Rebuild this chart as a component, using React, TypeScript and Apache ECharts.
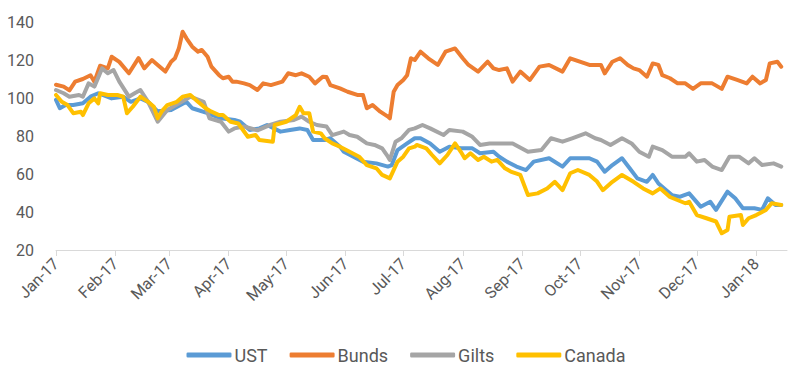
import React, { useEffect, useRef } from "react";
import * as echarts from "echarts";

// x = days since 1 Jan 2017
const monthStarts = [0, 31, 59, 90, 120, 151, 181, 212, 243, 273, 304, 334, 365];
const monthLabels = ["Jan-17", "Feb-17", "Mar-17", "Apr-17", "May-17", "Jun-17", "Jul-17", "Aug-17", "Sep-17", "Oct-17", "Nov-17", "Dec-17", "Jan-18"];
const yTicks = [20, 40, 60, 80, 100, 120, 140];
const seriesNames = ["UST", "Bunds", "Gilts", "Canada"];

const ust: [number, number][] = [
  [0, 99], [2, 94.6], [5, 96.3], [9, 96.3], [14, 97.2], [18, 100.7], [22, 102.5], [29, 99.8], [35, 100.7], [39, 98],
  [44, 99.8], [48, 98], [53, 93], [60, 93.7], [68, 98], [71, 94.6], [79, 92], [86, 89.3], [93, 88.4], [96, 87.5],
  [101, 83.2], [106, 84], [110, 85.8], [117, 82.3], [122, 83.2], [127, 84], [131, 83.2], [134, 77.9], [140, 77.9],
  [143, 78.8], [148, 74.4], [150, 71.7], [155, 69.1], [160, 66.5], [167, 65.6], [173, 63.9], [175, 64.7], [178, 72.6],
  [183, 76.1], [187, 78.8], [190, 78.8], [195, 76.1], [200, 71.7], [205, 74.4], [211, 73.5], [217, 73.5], [221, 70.9],
  [228, 71.7], [231, 69.1], [235, 66.5], [240, 63.9], [245, 62.1], [249, 66.5], [257, 68.3], [264, 63.9], [268, 68.3],
  [275, 68.3], [278, 68.3], [282, 66.5], [286, 61.2], [290, 64.7], [295, 68.3], [299, 63], [303, 57.7], [308, 55.9],
  [311, 59.5], [314, 55], [317, 52.4], [321, 48.9], [325, 48], [330, 49.8], [336, 42.8], [341, 45.4], [344, 41.1],
  [350, 50.7], [354, 47.2], [358, 42], [364, 42], [368, 41.1], [371, 47.2], [375, 43.7], [378, 43.7]
];

const bunds: [number, number][] = [
  [0, 107], [4, 106], [7, 104], [10, 108.6], [14, 110], [18, 112], [20, 108.6], [23, 117], [27, 115.6], [29, 121.7],
  [33, 119], [38, 113], [43, 121], [46, 115.6], [50, 120], [53, 117.4], [57, 113.9], [60, 119.1], [62, 120.9], [64, 126],
  [66, 134.9], [68, 131.4], [71, 127], [74, 124.4], [76, 125.3], [79, 121.7], [81, 116.5], [85, 112], [87, 110.4],
  [90, 111.2], [92, 108.6], [94, 108.6], [98, 107.7], [101, 106.8], [105, 104.2], [108, 107.7], [112, 106.8], [115, 107.7],
  [118, 108.6], [121, 113], [125, 112], [128, 113], [132, 111.2], [135, 107.7], [139, 111.2], [141, 111], [143, 106.8],
  [148, 105.1], [152, 103.3], [157, 101.6], [160, 101.6], [162, 94.6], [165, 96.3], [169, 92.8], [173, 90.2], [174, 89.3],
  [176, 103.3], [178, 106.8], [181, 109.5], [183, 112], [185, 120.9], [187, 120], [190, 124.4], [194, 120.9], [199, 117.4],
  [203, 124.4], [208, 126.1], [212, 120.9], [215, 117.4], [220, 113.9], [225, 119.1], [228, 115.6], [231, 114.7],
  [235, 115.6], [238, 108.6], [242, 113.9], [247, 109.5], [252, 116.5], [257, 117.4], [264, 113.9], [268, 120.9],
  [273, 119.1], [278, 117.4], [284, 117.4], [286, 113], [290, 119.1], [294, 120.9], [298, 117.4], [301, 115.6],
  [304, 114.7], [308, 111.2], [311, 118.2], [314, 117.4], [316, 112], [320, 110.4], [324, 107.7], [328, 107.7],
  [332, 104.8], [336, 107.7], [342, 107.7], [347, 104.8], [350, 111.2], [355, 109.5], [360, 107.7], [363, 111.2],
  [367, 107.7], [370, 109.5], [372, 118.2], [376, 119.1], [378, 116.5]
];

const gilts: [number, number][] = [
  [0, 104.2], [4, 102.5], [7, 100.7], [12, 101.6], [14, 100.7], [17, 107.7], [20, 106], [24, 115.6], [27, 113],
  [30, 114.7], [33, 108.6], [38, 100.7], [41, 102.5], [44, 104.2], [48, 98], [53, 87.5], [58, 93.7], [70, 100.7],
  [77, 98], [80, 89.3], [86, 87.5], [90, 82.3], [93, 84], [98, 85], [105, 83], [112, 86], [117, 87.5], [124, 88.4],
  [128, 90.2], [132, 87.5], [136, 85.8], [141, 85], [144, 80.5], [150, 82.3], [153, 80.5], [157, 79.6], [162, 76.1],
  [166, 75.3], [170, 73.5], [173, 69.1], [174, 67.4], [177, 77], [180, 78.8], [184, 83.2], [187, 84], [191, 85.8],
  [195, 84], [202, 80.5], [205, 83.2], [212, 82.3], [217, 79.6], [221, 75.3], [226, 76.1], [234, 76.1], [238, 76.1],
  [246, 71.7], [253, 72.6], [258, 78.8], [264, 77], [269, 78.8], [276, 81.4], [281, 78.8], [284, 77.9], [289, 75.3],
  [295, 78.8], [300, 76.1], [304, 71.7], [309, 69.1], [311, 74.4], [316, 72.6], [321, 69.1], [328, 69.1], [330, 70.9],
  [334, 66.5], [338, 67.4], [342, 63.9], [347, 62.1], [351, 69.1], [356, 69.1], [361, 65.6], [364, 68.3], [368, 64.7],
  [374, 65.6], [378, 63.9]
];

const canada: [number, number][] = [
  [0, 101.6], [3, 98], [6, 96.3], [9, 92], [13, 92.8], [14, 91], [17, 97.2], [20, 99.8], [22, 97.2], [23, 102.5],
  [27, 101.6], [32, 101.6], [35, 100.7], [37, 92], [40, 95.4], [44, 100.7], [48, 98], [51, 95.4], [53, 89.3], [55, 92.8],
  [58, 96.3], [63, 98], [66, 100.7], [70, 101.6], [74, 98], [78, 94.6], [81, 92.8], [85, 91], [87, 91], [91, 87.5],
  [95, 86.6], [100, 79.6], [104, 80.5], [106, 77.9], [113, 77], [114, 85.8], [120, 87.5], [125, 91], [127, 95.4],
  [129, 92], [132, 92], [134, 82.3], [138, 81.4], [140, 78.8], [144, 76.1], [148, 74.4], [153, 71.7], [158, 69.1],
  [162, 64.7], [167, 63], [170, 59.5], [174, 57.7], [178, 66.5], [181, 69.1], [184, 73.5], [187, 74.4], [188, 75.3],
  [193, 73.5], [196, 70], [200, 65.6], [204, 70], [208, 76.1], [211, 71.7], [213, 68.3], [216, 70.9], [220, 67.4],
  [223, 69.1], [227, 66.5], [230, 67.4], [234, 63], [237, 61.3], [242, 59.5], [246, 48.9], [251, 49.8], [256, 52.4],
  [260, 55.9], [264, 51.5], [268, 60.4], [272, 62.1], [278, 59.5], [282, 56], [285, 51.5], [290, 55.9], [295, 59.5],
  [301, 55.9], [306, 52.4], [311, 49.8], [315, 52.4], [320, 47.9], [328, 44.6], [330, 45.4], [334, 38.4], [339, 36.7],
  [344, 35], [347, 28.8], [350, 30.5], [351, 37.5], [357, 38.4], [358, 33.2], [361, 36.7], [365, 38.4], [370, 41.1],
  [373, 44.6], [378, 43.7]
];

const colors = ["#5B9BD5", "#ED7D31", "#A5A5A5", "#FFC000"];
const allData = [ust, bunds, gilts, canada];

export default function App() {
  const ref = useRef<HTMLDivElement>(null);
  useEffect(() => {
    if (!ref.current) return;
    const chart = echarts.init(ref.current, undefined, { renderer: "svg" });
    const font = "Roboto, 'Noto Sans', sans-serif";
    chart.setOption({
      animation: false,
      color: colors,
      grid: { left: 56, right: 25, top: 22, bottom: 134, containLabel: false },
      legend: {
        data: seriesNames,
        bottom: 15,
        left: "center",
        icon: "roundRect",
        itemWidth: 45,
        itemHeight: 5,
        itemGap: 22,
        textStyle: { color: "#595959", fontSize: 18, fontFamily: font, padding: [0, 0, 0, -2] },
      },
      xAxis: {
        type: "value",
        min: 0,
        max: 381,
        splitLine: { show: false },
        axisLine: { show: true, lineStyle: { color: "#D9D9D9", width: 1 } },
        axisTick: { show: true, length: 6, lineStyle: { color: "#D9D9D9" }, customValues: monthStarts },
        axisLabel: {
          customValues: monthStarts,
          rotate: 45,
          margin: 11,
          color: "#595959",
          fontSize: 16,
          fontFamily: font,
          formatter: (v: number) => {
            const i = monthStarts.indexOf(Math.round(v));
            return i >= 0 ? monthLabels[i] : "";
          },
        },
      },
      yAxis: {
        type: "value",
        min: yTicks[0],
        max: yTicks[yTicks.length - 1],
        interval: 20,
        splitLine: { show: false },
        axisLine: { show: false },
        axisTick: { show: false },
        axisLabel: { color: "#595959", fontSize: 16, fontFamily: font, margin: 22 },
      },
      series: seriesNames.map((name, i) => ({
        name,
        type: "line",
        data: allData[i],
        symbol: "none",
        lineStyle: { width: 4, color: colors[i], join: "round", cap: "round" },
        itemStyle: { color: colors[i] },
        z: 2 + i,
      })),
    });
    return () => chart.dispose();
  }, []);
  return <div ref={ref} style={{ position: "fixed", left: 0, top: 0, width: 812, height: 384, background: "#fff" }} />;
}
